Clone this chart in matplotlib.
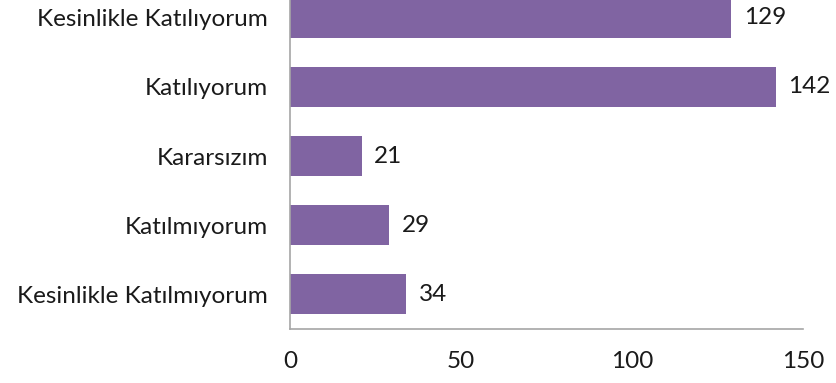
import matplotlib
matplotlib.use('Agg')
import matplotlib.pyplot as plt

# survey answers, top to bottom as shown
categories = ['Kesinlikle Katılıyorum', 'Katılıyorum', 'Kararsızım',
              'Katılmıyorum', 'Kesinlikle Katılmıyorum']
counts = [129, 142, 21, 29, 34]
x_ticks = [0, 50, 100, 150]

plt.rcParams['font.family'] = ['Lato', 'DejaVu Sans']
FS = 17.5
TXT = '#1a1a1a'

fig = plt.figure(figsize=(8.37, 3.83), dpi=100)
ax = fig.add_axes([0.3465, 0.141, 0.613, 0.903])

ypos = list(range(len(categories)))
ax.barh(ypos, counts, height=0.58, color='#8064A2')

# value labels to the right of each bar
for y, v in zip(ypos, counts):
    ax.annotate(str(v), xy=(v, y), xytext=(9, 0), textcoords='offset points',
                va='center', ha='left', fontsize=FS, color=TXT)

ax.set_yticks(ypos)
ax.set_yticklabels(categories, fontsize=FS, color=TXT)
ax.set_ylim(len(categories) - 0.5, -0.5)

ax.set_xlim(0, 150)
ax.set_xticks(x_ticks)
ax.set_xticklabels([str(t) for t in x_ticks], fontsize=FS, color=TXT)

ax.tick_params(axis='both', length=0)
ax.tick_params(axis='y', pad=16)
ax.tick_params(axis='x', pad=16)

for side in ['top', 'right']:
    ax.spines[side].set_visible(False)
for side in ['left', 'bottom']:
    ax.spines[side].set_color('#A6A6A6')
    ax.spines[side].set_linewidth(1.2)

fig.savefig('out.png', dpi=100)
